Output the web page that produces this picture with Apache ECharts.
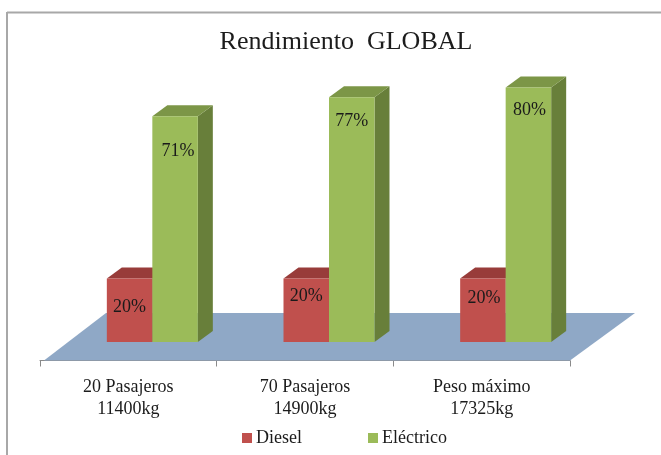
<!DOCTYPE html>
<html><head><meta charset="utf-8">
<style>html,body{margin:0;padding:0;background:#fff}#c{width:661px;height:455px}</style>
<script src="https://cdn.jsdelivr.net/npm/echarts@6/dist/echarts.min.js"></script>
</head><body><div id="c"></div>
<script>
const categories = ['20 Pasajeros\n11400kg', '70 Pasajeros\n14900kg', 'Peso máximo\n17325kg'];
const diesel = [20, 20, 20];
const electrico = [71, 77, 80];

const FONT = '"Liberation Serif","Times New Roman",serif';
const DEPTH_X = 15, DEPTH_Y = 11, BAR_W = 45.5, BAR_SHIFT = 24;
const LABEL_DROP = {Diesel: [29, 18, 20], 'Eléctrico': [35, 24, 23]};
const LABEL_NUDGE = {Diesel: [0, 0, 1], 'Eléctrico': [3, 0, 1]};
const COLORS = {
  Diesel: {front: '#c0504d', top: '#983c3a', side: '#8c3836'},
  'Eléctrico': {front: '#9bbb59', top: '#7c9647', side: '#687f3a'}
};

function bar3d(side) {
  return function (params, api) {
    const name = params.seriesName, c = COLORS[name];
    const idx = api.value(0);
    const top = api.coord([idx, api.value(1)]);
    const base = api.coord([idx, 0]);
    const cx = top[0] + BAR_SHIFT;
    const x0 = side < 0 ? cx - BAR_W : cx, x1 = x0 + BAR_W;
    const yT = top[1], yB = base[1];
    const poly = (pts, fill) => ({type: 'polygon', shape: {points: pts}, style: {fill: fill}, silent: true});
    return {type: 'group', children: [
      poly([[x1, yT], [x1 + DEPTH_X, yT - DEPTH_Y], [x1 + DEPTH_X, yB - DEPTH_Y], [x1, yB]], c.side),
      poly([[x0, yT], [x0 + DEPTH_X, yT - DEPTH_Y], [x1 + DEPTH_X, yT - DEPTH_Y], [x1, yT]], c.top),
      {type: 'rect', shape: {x: x0, y: yT, width: BAR_W, height: yB - yT}, style: {fill: c.front}},
      {type: 'text', style: {x: (x0 + x1) / 2 + LABEL_NUDGE[name][idx], y: yT + LABEL_DROP[name][idx], text: api.value(1) + '%',
        font: '18px ' + FONT, fill: '#1a1a1a', align: 'center', verticalAlign: 'middle'}, z2: 10}
    ]};
  };
}

function floor(params, api) {
  const g = params.coordSys;
  const yF = g.y + g.height + 18.5, yB = yF - 47.5;
  return {type: 'polygon', silent: true, shape: {points: [
    [g.x + 4, yF], [g.x + g.width, yF], [g.x + g.width + 65, yB], [g.x + 66, yB]
  ]}, style: {fill: '#8fa8c6'}};
}

const chart = echarts.init(document.getElementById('c'), null, {renderer: 'canvas'});
chart.setOption({
  animation: false,
  backgroundColor: '#fff',
  title: {text: 'Rendimiento  GLOBAL', left: 341, top: 24, textAlign: 'center',
    textStyle: {fontFamily: FONT, fontSize: 26, fontWeight: 'normal', color: '#1c1c1c'}},
  legend: {bottom: 3, left: 237, itemGap: 66, itemWidth: 10, itemHeight: 10, icon: 'rect',
    data: ['Diesel', 'Eléctrico'],
    textStyle: {fontFamily: FONT, fontSize: 18, color: '#1c1c1c', padding: [0, 0, 0, -1]}},
  grid: {left: 40, right: 91, top: 24, height: 318},
  xAxis: {type: 'category', data: categories, offset: 18.5,
    axisLine: {onZero: false, lineStyle: {color: '#8a8a8a', width: 1}},
    axisTick: {show: true, alignWithLabel: false, length: 6, lineStyle: {color: '#8a8a8a'}},
    axisLabel: {fontFamily: FONT, fontSize: 18, color: '#1c1c1c', margin: 16, lineHeight: 22, interval: 0}},
  yAxis: {type: 'value', min: 0, max: 100, show: false},
  graphic: [
    {type: 'line', silent: true, shape: {x1: 7, y1: 12.5, x2: 661, y2: 12.5}, style: {stroke: '#a8a8a8', lineWidth: 2}},
    {type: 'line', silent: true, shape: {x1: 7, y1: 12, x2: 7, y2: 455}, style: {stroke: '#a8a8a8', lineWidth: 2}}
  ],
  series: [
    {type: 'custom', name: '_floor', renderItem: floor, data: [[0]], z: 1, silent: true, legendHoverLink: false},
    {type: 'custom', name: 'Diesel', renderItem: bar3d(-1), data: diesel.map((v, i) => [i, v]), encode: {x: 0, y: 1}, z: 2, itemStyle: {color: COLORS.Diesel.front}},
    {type: 'custom', name: 'Eléctrico', renderItem: bar3d(1), data: electrico.map((v, i) => [i, v]), encode: {x: 0, y: 1}, z: 3, itemStyle: {color: COLORS['Eléctrico'].front}}
  ]
});
</script></body></html>
